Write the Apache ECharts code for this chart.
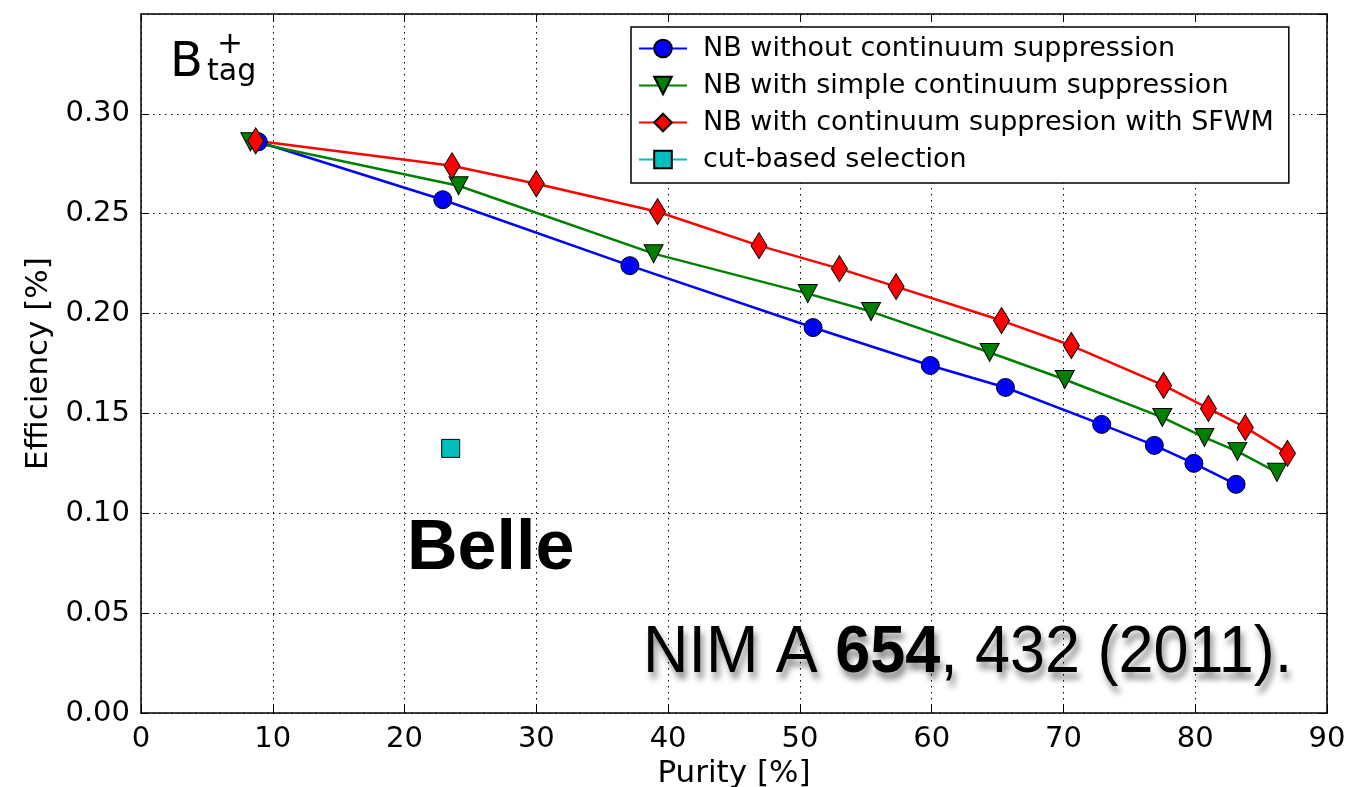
<!DOCTYPE html>
<html><head><meta charset="utf-8">
<script src="https://cdn.jsdelivr.net/npm/echarts@6/dist/echarts.min.js"></script>
<style>html,body{margin:0;padding:0;background:#fff}#c{width:1351px;height:787px}</style>
</head><body><div id="c"></div><script>
const seriesNames = [
  'NB without continuum suppression',
  'NB with simple continuum suppression',
  'NB with continuum suppresion with SFWM',
  'cut-based selection'
];
const blueX = [8.9, 22.9, 37.1, 51.0, 59.9, 65.6, 72.9, 76.9, 79.9, 83.1];
const blueY = [0.286, 0.257, 0.224, 0.193, 0.174, 0.163, 0.1445, 0.134, 0.125, 0.1145];
const greenX = [8.3, 24.1, 38.9, 50.6, 55.4, 64.4, 70.1, 77.5, 80.7, 83.2, 86.2];
const greenY = [0.286, 0.264, 0.230, 0.210, 0.201, 0.1805, 0.167, 0.148, 0.138, 0.131, 0.1205];
const redX = [8.7, 23.6, 30.0, 39.2, 46.9, 53.0, 57.3, 65.3, 70.6, 77.6, 81.0, 83.8, 87.0];
const redY = [0.2865, 0.274, 0.265, 0.251, 0.234, 0.2225, 0.2135, 0.1965, 0.184, 0.164, 0.1525, 0.143, 0.130];
const cutX = [23.5];
const cutY = [0.1325];
const xTicks = [0, 10, 20, 30, 40, 50, 60, 70, 80, 90];
const yTicks = [0, 0.05, 0.10, 0.15, 0.20, 0.25, 0.30, 0.35];

const pairs = (xs, ys) => xs.map((x, i) => [x, ys[i]]);
const FONT = 'DejaVu Sans';
const gridStyle = {show: true, lineStyle: {color: '#000', width: 1, type: [1.5, 4.5]}};
const frameLine = {show: true, onZero: false, lineStyle: {color: '#000', width: 1.5}};
const tick = {show: true, inside: true, length: 8, lineStyle: {color: '#000', width: 1}};
const shadow = {textShadowColor: 'rgba(0,0,0,0.45)', textShadowBlur: 6, textShadowOffsetX: 3, textShadowOffsetY: 7};

const chart = echarts.init(document.getElementById('c'));
chart.setOption({
  animation: false,
  backgroundColor: '#fff',
  grid: {left: 141, right: 24, top: 14, bottom: 74, containLabel: false, outerBoundsMode: 'none'},
  xAxis: [{
    type: 'value', min: xTicks[0], max: xTicks[xTicks.length - 1], interval: 10,
    axisLine: frameLine, axisTick: tick, splitLine: gridStyle,
    axisLabel: {fontFamily: FONT, fontSize: 29, color: '#000', margin: 12},
    name: 'Purity [%]', nameLocation: 'middle', nameGap: 40,
    nameTextStyle: {fontFamily: FONT, fontSize: 31, color: '#000'}
  }, {
    type: 'value', position: 'top', min: xTicks[0], max: xTicks[xTicks.length - 1], interval: 10,
    axisLine: frameLine, axisTick: tick, splitLine: {show: false}, axisLabel: {show: false}
  }],
  yAxis: [{
    type: 'value', min: yTicks[0], max: yTicks[yTicks.length - 1], interval: 0.05,
    axisLine: frameLine, axisTick: tick, splitLine: gridStyle,
    axisLabel: {fontFamily: FONT, fontSize: 29, color: '#000', margin: 11, showMaxLabel: false,
      formatter: v => v.toFixed(2)},
    name: 'Efficiency [%]', nameLocation: 'middle', nameGap: 86,
    nameTextStyle: {fontFamily: FONT, fontSize: 31, color: '#000'}
  }, {
    type: 'value', position: 'right', min: yTicks[0], max: yTicks[yTicks.length - 1], interval: 0.05,
    axisLine: frameLine, axisTick: tick, splitLine: {show: false}, axisLabel: {show: false}
  }],
  legend: {
    orient: 'vertical', left: 631, top: 27,
    backgroundColor: '#fff', borderColor: '#000', borderWidth: 1.5, borderRadius: 0,
    padding: [8, 15, 10, 7], itemWidth: 48, itemHeight: 22, itemGap: 10,
    textStyle: {fontFamily: FONT, fontSize: 27, color: '#000', padding: [0, 0, 0, 11]},
    data: seriesNames
  },
  series: [{
    name: seriesNames[0], type: 'line', data: pairs(blueX, blueY),
    symbol: 'circle', symbolSize: 18,
    lineStyle: {color: '#0000ff', width: 2.5},
    itemStyle: {color: '#0000ff', borderColor: '#000', borderWidth: 1}
  }, {
    name: seriesNames[1], type: 'line', data: pairs(greenX, greenY),
    symbol: 'path://M0,0L20,0L10,18Z', symbolSize: [19, 18],
    lineStyle: {color: '#008000', width: 2.5},
    itemStyle: {color: '#008000', borderColor: '#000', borderWidth: 1}
  }, {
    name: seriesNames[2], type: 'line', data: pairs(redX, redY),
    symbol: 'diamond', symbolSize: [16, 26],
    lineStyle: {color: '#ff0000', width: 2.5},
    itemStyle: {color: '#ff0000', borderColor: '#000', borderWidth: 1}
  }, {
    name: seriesNames[3], type: 'line', data: pairs(cutX, cutY),
    symbol: 'rect', symbolSize: 18,
    lineStyle: {color: '#00bfbf', width: 2.5},
    itemStyle: {color: '#00bfbf', borderColor: '#000', borderWidth: 1}
  }],
  graphic: [
    {type: 'text', x: 170, y: 64, style: {text: 'B', font: '48px "DejaVu Sans"', fill: '#000', verticalAlign: 'middle', align: 'left'}},
    {type: 'text', x: 230, y: 45, style: {text: '+', font: '31px "DejaVu Sans"', fill: '#000', verticalAlign: 'middle', align: 'center'}},
    {type: 'text', x: 207, y: 72, style: {text: 'tag', font: '30px "DejaVu Sans"', fill: '#000', verticalAlign: 'middle', align: 'left'}},
    {type: 'text', x: 407, y: 550, style: {text: 'Belle', font: 'bold 70px "Liberation Sans"', fill: '#000', verticalAlign: 'middle', align: 'left'}},
    {type: 'text', x: 643, y: 654, scaleX: 0.953, style: Object.assign({
      text: '{n|NIM A }{b|654}{n|, 432 (2011).}',
      verticalAlign: 'middle', align: 'left', fill: '#000',
      font: '66px "Liberation Sans"',
      rich: {
        n: Object.assign({fontFamily: 'Liberation Sans', fontSize: 66, fill: '#000'}, shadow),
        b: Object.assign({fontFamily: 'Liberation Sans', fontSize: 66, fontWeight: 'bold', fill: '#000'}, shadow)
      }
    }, shadow)}
  ]
});
</script></body></html>
